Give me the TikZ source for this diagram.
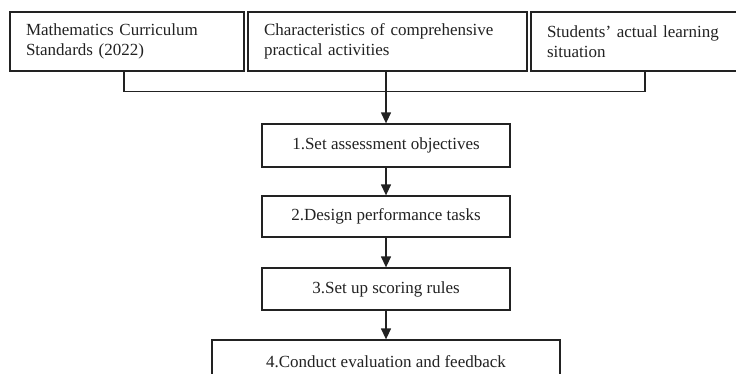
\documentclass[tikz,border=0pt]{standalone}
\usepackage{fontspec}
\setmainfont{Liberation Serif}
\usetikzlibrary{arrows.meta}
\definecolor{ink}{HTML}{222222}
\begin{document}
\begin{tikzpicture}[x=1pt,y=-1pt,
  every node/.style={font=\fontsize{17}{20}\selectfont, text=ink},
  topbox/.style={draw=ink, line width=1.3pt, inner ysep=0pt, inner xsep=16pt, align=left, minimum height=59pt},
  stepbox/.style={draw=ink, line width=1.3pt, inner sep=0pt, align=center},
  conn/.style={draw=ink, line width=1.3pt},
  arr/.style={conn, -{Triangle[width=10pt,length=11pt]}}]
\clip (0,0) rectangle (736,373);
\fill[white] (0,0) rectangle (736,373);
% top boxes
\node[topbox, text width=202pt] (t1) at (127,41.5) {Mathematics Curriculum\\Standards (2022)};
\node[topbox, text width=247pt] (t2) at (387.5,41.5) {Characteristics of comprehensive\\practical activities};
\node[topbox, text width=187pt] (t3) at (640.5,41.5) {Students’ actual learning\\situation};
% steps
\node[stepbox, minimum width=248pt, minimum height=43pt] (s1) at (386,145.5) {1.Set assessment objectives};
\node[stepbox, minimum width=248pt, minimum height=41pt] (s2) at (386,216.5) {2.Design performance tasks};
\node[stepbox, minimum width=248pt, minimum height=42pt] (s3) at (386,289) {3.Set up scoring rules};
\node[stepbox, minimum width=348pt, minimum height=50pt, text depth=0pt] (s4) at (386,365) {};
\node (s4t) at (386,362) {4.Conduct evaluation and feedback};
% connectors
\draw[conn] ([xshift=-3pt]t1.south) -- ++(0,20) -| ([xshift=4.5pt]t3.south);
\draw[arr] (t2.south -| s1.north) -- (s1.north);
\draw[arr] (s1.south) -- (s2.north);
\draw[arr] (s2.south) -- (s3.north);
\draw[arr] (s3.south) -- (s4.north);
\end{tikzpicture}
\end{document}
